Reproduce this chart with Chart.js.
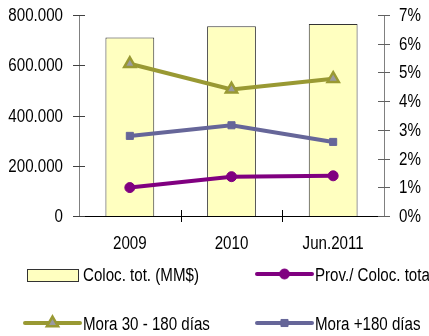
<!DOCTYPE html>
<html>
<head>
<meta charset="utf-8">
<script src="https://cdn.jsdelivr.net/npm/chart.js@4.4.1/dist/chart.umd.min.js"></script>
<style>
  html, body { margin: 0; padding: 0; background: #fff; }
  #wrap { width: 429px; height: 336px; }
</style>
</head>
<body>
<div id="wrap"><canvas id="c" width="429" height="336"></canvas></div>
<script>
// Categories and series
const categories = ['2009', '2010', 'Jun.2011'];
const colocTot = [710000, 755000, 764000];     // MM$
const provColoc = [0.99, 1.37, 1.40];          // %
const mora30a180 = [5.30, 4.41, 4.78];         // %
const moraMas180 = [2.79, 3.16, 2.58];         // %

const leftMax = 800000, leftStep = 200000;
const rightMax = 7, rightStep = 1;

const FONT = '"Liberation Sans", Arial, sans-serif';
const FS = 18;       // font size of all chart text
const SX = 0.84;     // horizontal squeeze for a narrow face

function fmtMiles(v) {
  return String(Math.round(v)).replace(/\B(?=(\d{3})+(?!\d))/g, '.');
}

function narrowText(ctx, txt, x, y, align) {
  ctx.save();
  ctx.translate(x, y);
  ctx.scale(SX, 1);
  ctx.textAlign = align;
  ctx.fillText(txt, 0, 0);
  ctx.restore();
}

// Axis labels, tick marks crossing the axis lines, and the 2x2 legend
const axisDecor = {
  id: 'axisDecor',
  afterDraw(chart) {
    const ctx = chart.ctx;
    const a = chart.chartArea;
    const x = chart.scales.x, y = chart.scales.y, y1 = chart.scales.y1;
    ctx.save();
    ctx.lineWidth = 1;
    ctx.font = FS + 'px ' + FONT;
    ctx.textBaseline = 'middle';

    // left ticks and labels
    y.ticks.forEach(t => {
      const py = Math.round(y.getPixelForValue(t.value)) + 0.5;
      ctx.strokeStyle = '#404040';
      ctx.beginPath(); ctx.moveTo(a.left - 6, py); ctx.lineTo(a.left + 6, py); ctx.stroke();
      ctx.fillStyle = '#000';
      narrowText(ctx, fmtMiles(t.value), a.left - 16, py + 0.5, 'right');
    });
    // right ticks and labels
    y1.ticks.forEach(t => {
      const py = Math.round(y1.getPixelForValue(t.value)) + 0.5;
      ctx.strokeStyle = '#606060';
      ctx.beginPath(); ctx.moveTo(a.right - 6, py); ctx.lineTo(a.right + 6, py); ctx.stroke();
      ctx.fillStyle = '#000';
      narrowText(ctx, t.value + '%', a.right + 15, py + 0.5, 'left');
    });
    // category separators and category labels on the x axis
    ctx.strokeStyle = '#000';
    const n = categories.length, w = (a.right - a.left) / n;
    for (let i = 1; i < n; i++) {
      const px = Math.round(a.left + i * w) + 0.5;
      ctx.beginPath(); ctx.moveTo(px, a.bottom - 6); ctx.lineTo(px, a.bottom + 6); ctx.stroke();
    }
    ctx.fillStyle = '#000';
    categories.forEach((c, i) => {
      narrowText(ctx, c, x.getPixelForTick(i), a.bottom + 28, 'center');
    });

    // legend
    const ds = chart.data.datasets;
    const items = [
      { d: ds[0], x: 27, y: 275, ty: 276 },
      { d: ds[1], x: 257, y: 274, ty: 276 },
      { d: ds[2], x: 25, y: 323, ty: 325 },
      { d: ds[3], x: 257, y: 323, ty: 325 }
    ];
    items.forEach(it => {
      const d = it.d;
      let tx;
      if (d.type === 'bar') {
        ctx.fillStyle = d.backgroundColor;
        ctx.fillRect(it.x, it.y - 6, 51, 12);
        ctx.strokeStyle = '#333';
        ctx.lineWidth = 1;
        ctx.strokeRect(it.x + 0.5, it.y - 5.5, 51, 12);
        tx = 83;
      } else {
        const len = 55;
        ctx.strokeStyle = d.borderColor;
        ctx.lineWidth = d.borderWidth;
        ctx.lineCap = 'round';
        ctx.beginPath(); ctx.moveTo(it.x, it.y); ctx.lineTo(it.x + len, it.y); ctx.stroke();
        ctx.lineCap = 'butt';
        ctx.fillStyle = d.pointBackgroundColor;
        ctx.strokeStyle = d.pointBorderColor;
        ctx.lineWidth = d.pointBorderWidth;
        Chart.helpers.drawPoint(ctx, {
          pointStyle: d.pointStyle, radius: d.pointRadius,
          borderWidth: d.pointBorderWidth, rotation: 0
        }, it.x + len / 2, it.y);
        tx = it.x + len + 3;
      }
      ctx.fillStyle = '#000';
      narrowText(ctx, d.label, tx, it.ty, 'left');
    });
    ctx.restore();
  }
};

new Chart(document.getElementById('c'), {
  data: {
    labels: categories,
    datasets: [
      {
        type: 'bar', label: 'Coloc. tot. (MM$)', data: colocTot, yAxisID: 'y', order: 2,
        backgroundColor: '#FFFFC0', borderColor: '#333', borderWidth: 1,
        categoryPercentage: 1, barPercentage: 0.48
      },
      {
        type: 'line', label: 'Prov./ Coloc. total', data: provColoc, yAxisID: 'y1', order: 1,
        borderColor: '#800080', borderWidth: 4, pointStyle: 'circle', pointRadius: 5,
        pointBorderWidth: 1, pointBackgroundColor: '#800080', pointBorderColor: '#800080', tension: 0
      },
      {
        type: 'line', label: 'Mora 30 - 180 días', data: mora30a180, yAxisID: 'y1', order: 1,
        borderColor: '#999933', borderWidth: 4, pointStyle: 'triangle', pointRadius: 6.5,
        pointBorderWidth: 2.5, pointBackgroundColor: '#9a9aa0', pointBorderColor: '#999933', tension: 0
      },
      {
        type: 'line', label: 'Mora +180 días', data: moraMas180, yAxisID: 'y1', order: 1,
        borderColor: '#666699', borderWidth: 4, pointStyle: 'rect', pointRadius: 5,
        pointBorderWidth: 1, pointBackgroundColor: '#666699', pointBorderColor: '#666699', tension: 0
      }
    ]
  },
  options: {
    responsive: false,
    animation: false,
    layout: { padding: { top: 15, bottom: 80, left: 0, right: 0 } },
    plugins: { legend: { display: false }, tooltip: { enabled: false } },
    scales: {
      x: {
        offset: true,
        grid: { display: false, drawTicks: false },
        border: { display: true, color: '#000', width: 1 },
        ticks: { display: false },
        afterFit(s) { s.height = 40; }
      },
      y: {
        position: 'left', min: 0, max: leftMax,
        grid: { display: false, drawTicks: false },
        border: { display: true, color: '#808080', width: 1 },
        ticks: { display: false, stepSize: leftStep },
        afterFit(s) { s.width = 79; }
      },
      y1: {
        position: 'right', min: 0, max: rightMax,
        grid: { display: false, drawTicks: false },
        border: { display: true, color: '#808080', width: 1 },
        ticks: { display: false, stepSize: rightStep },
        afterFit(s) { s.width = 45; }
      }
    }
  },
  plugins: [axisDecor]
});
</script>
</body>
</html>
